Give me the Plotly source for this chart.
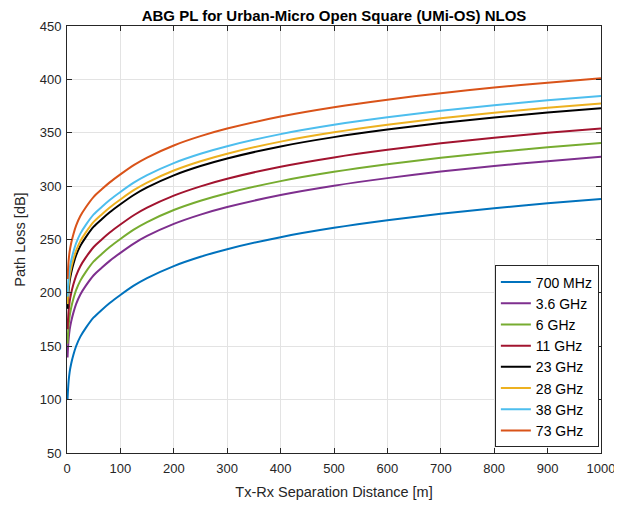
import plotly.graph_objects as go

distance_m = [1, 2, 3, 5, 8, 12, 17, 25, 35, 50, 65, 80, 100, 125, 150, 200, 250, 300,
              400, 500, 600, 700, 800, 900, 1000]

pl_700mhz = [100, 110, 117, 126, 134, 142, 150, 159, 167, 177, 184, 190.5, 198, 206.7, 213.8,
             225.1, 233.8, 240.9, 252.2, 260.9, 268, 274.1, 279.3, 283.9, 288]
pl_3_6ghz = [139.5, 149.5, 156.5, 165.5, 173.5, 181.5, 189.5, 198.5, 206.5, 216.5, 223.5, 230,
             237.5, 246.2, 253.3, 264.6, 273.3, 280.4, 291.7, 300.4, 307.5, 313.6, 318.8, 323.4, 327.5]
pl_6ghz = [152.5, 162.5, 169.5, 178.5, 186.5, 194.5, 202.5, 211.5, 219.5, 229.5, 236.5, 243,
           250.5, 259.2, 266.3, 277.6, 286.3, 293.4, 304.7, 313.4, 320.5, 326.6, 331.8, 336.4, 340.5]
pl_11ghz = [166, 176, 183, 192, 200, 208, 216, 225, 233, 243, 250, 256.5, 264, 272.7, 279.8,
            291.1, 299.8, 306.9, 318.2, 326.9, 334, 340.1, 345.3, 349.9, 354]
pl_23ghz = [185, 195, 202, 211, 219, 227, 235, 244, 252, 262, 269, 275.5, 283, 291.7, 298.8,
            310.1, 318.8, 325.9, 337.2, 345.9, 353, 359.1, 364.3, 368.9, 373]
pl_28ghz = [189.5, 199.5, 206.5, 215.5, 223.5, 231.5, 239.5, 248.5, 256.5, 266.5, 273.5, 280,
            287.5, 296.2, 303.3, 314.6, 323.3, 330.4, 341.7, 350.4, 357.5, 363.6, 368.8, 373.4, 377.5]
pl_38ghz = [196.5, 206.5, 213.5, 222.5, 230.5, 238.5, 246.5, 255.5, 263.5, 273.5, 280.5, 287,
            294.5, 303.2, 310.3, 321.6, 330.3, 337.4, 348.7, 357.4, 364.5, 370.6, 375.8, 380.4, 384.5]
pl_73ghz = [213, 223, 230, 239, 247, 255, 263, 272, 280, 290, 297, 303.5, 311, 319.7, 326.8,
            338.1, 346.8, 353.9, 365.2, 373.9, 381, 387.1, 392.3, 396.9, 401]

series_names = ["700 MHz", "3.6 GHz", "6 GHz", "11 GHz", "23 GHz", "28 GHz", "38 GHz", "73 GHz"]
series_values = [pl_700mhz, pl_3_6ghz, pl_6ghz, pl_11ghz, pl_23ghz, pl_28ghz, pl_38ghz, pl_73ghz]
series_colors = ["#0072BD", "#7E2F8E", "#77AC30", "#A2142F", "#000000", "#EDB120", "#4DBEEE", "#D95319"]

x_ticks = [0, 100, 200, 300, 400, 500, 600, 700, 800, 900, 1000]
y_ticks = [50, 100, 150, 200, 250, 300, 350, 400, 450]

FONT = "Liberation Sans, Arial, sans-serif"

fig = go.Figure()
for name, vals, col in zip(series_names, series_values, series_colors):
    fig.add_trace(go.Scatter(x=distance_m, y=vals, mode="lines", name=name, legendgroup=name,
                             line=dict(color=col, width=2, shape="spline", smoothing=0.7)))

axis_font = dict(family=FONT, size=13, color="#262626")
common = dict(showline=True, linecolor="#262626", linewidth=1, mirror="ticks",
              ticks="inside", ticklen=5, tickcolor="#262626", showgrid=True,
              gridcolor="#e3e3e3", gridwidth=1, zeroline=False, tickfont=axis_font,
              automargin=False)

fig.update_xaxes(range=[0, 1000], tickvals=x_ticks, ticklabelstandoff=3,
                 title=dict(text="Tx-Rx Separation Distance [m]",
                            font=dict(family=FONT, size=14.5, color="#262626"),
                            standoff=12), **common)
fig.update_yaxes(range=[50, 450], tickvals=y_ticks, ticklabelstandoff=2,
                 title=dict(text="Path Loss [dB]",
                            font=dict(family=FONT, size=14.5, color="#262626"),
                            standoff=10), **common)

# page body has an 8px margin, so the figure is sized/margined to land on the reference pixels
fig.update_layout(
    width=614, height=504,
    margin=dict(l=59, r=21, t=18, b=59),
    paper_bgcolor="white", plot_bgcolor="white",
    title=dict(text="<b>ABG PL for Urban-Micro Open Square (UMi-OS) NLOS</b>",
               font=dict(family=FONT, size=15, color="#000000"),
               x=0.5, xanchor="center", xref="paper", y=1, yanchor="top",
               pad=dict(t=2, b=0)),
    legend=dict(x=0.996, xanchor="right", y=0.013, yanchor="bottom",
                bgcolor="white", bordercolor="#262626", borderwidth=1,
                font=dict(family=FONT, size=14, color="#000000"),
                traceorder="grouped", tracegroupgap=0, itemwidth=30,
                entrywidth=88, entrywidthmode="pixels"),
    showlegend=True,
)

fig.write_html("out.html")
